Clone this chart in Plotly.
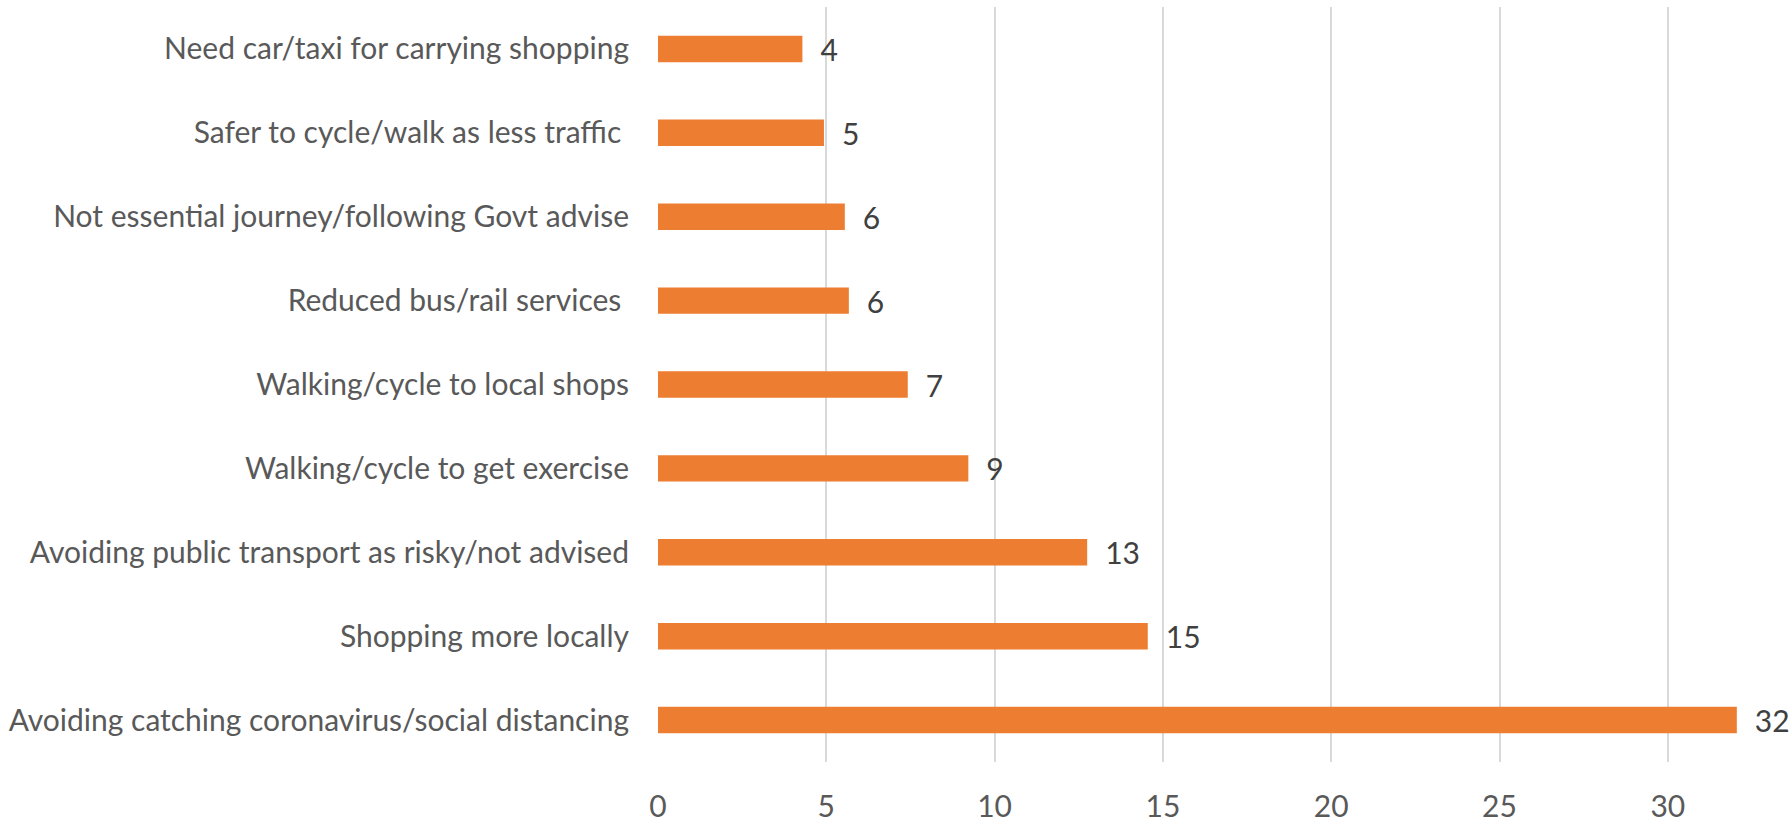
import plotly.graph_objects as go

# Reasons for change in travel, listed top to bottom
reasons = [
    "Need car/taxi for carrying shopping",
    "Safer to cycle/walk as less traffic\u00a0",
    "Not essential journey/following Govt advise",
    "Reduced bus/rail services\u00a0",
    "Walking/cycle to local shops",
    "Walking/cycle to get exercise",
    "Avoiding public transport as risky/not advised",
    "Shopping more locally",
    "Avoiding catching coronavirus/social distancing",
]
shares = [4.29, 4.93, 5.55, 5.67, 7.42, 9.22, 12.75, 14.55, 32.05]
x_ticks = [0, 5, 10, 15, 20, 25, 30]

FONT = "Lato, 'Open Sans', sans-serif"
SIZE = 30

fig = go.Figure(
    go.Bar(
        y=reasons,
        x=shares,
        orientation="h",
        marker=dict(color="#ED7D31", line=dict(width=0)),
        texttemplate="\u2002%{x:.0f}",
        textposition="outside",
        constraintext="none",
        textfont=dict(family=FONT, size=SIZE, color="#404040"),
        cliponaxis=False,
        width=0.315,
    )
)

fig.update_layout(
    width=1789,
    height=823,
    margin=dict(l=658, r=0, t=7, b=54),
    paper_bgcolor="white",
    plot_bgcolor="white",
    showlegend=False,
    font=dict(family=FONT, size=SIZE, color="#595959"),
    xaxis=dict(
        range=[0, 33.6],
        tickvals=x_ticks,
        showgrid=True,
        gridcolor="#D9D9D9",
        gridwidth=1.5,
        zeroline=False,
        showline=False,
        ticks="",
        ticklabelstandoff=24,
        tickfont=dict(family=FONT, size=SIZE, color="#595959"),
    ),
    yaxis=dict(
        autorange="reversed",
        showgrid=False,
        zeroline=False,
        showline=False,
        ticks="",
        ticklabelstandoff=28,
        tickfont=dict(family=FONT, size=SIZE, color="#595959"),
    ),
)

fig.write_html("out.html")
